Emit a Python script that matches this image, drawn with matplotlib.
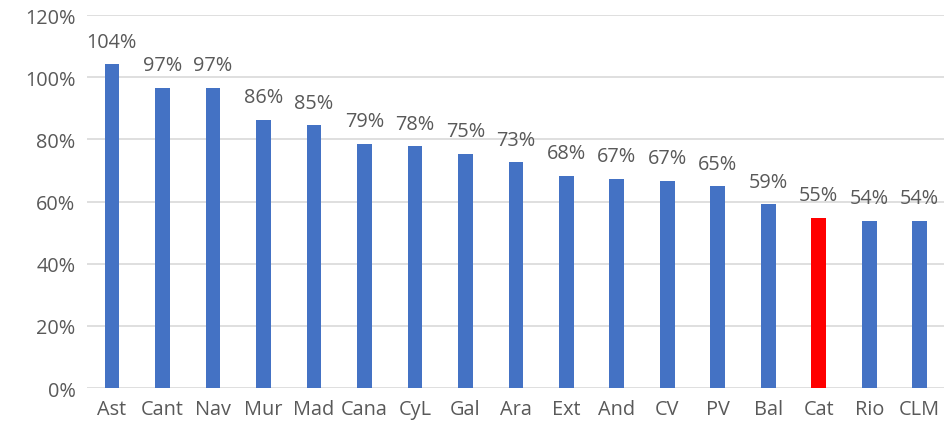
import matplotlib
matplotlib.use("Agg")
import matplotlib.pyplot as plt
import numpy as np

categories = ["Ast", "Cant", "Nav", "Mur", "Mad", "Cana", "CyL", "Gal", "Ara",
              "Ext", "And", "CV", "PV", "Bal", "Cat", "Rio", "CLM"]
values = [104.2, 96.6, 96.6, 86.3, 84.6, 78.6, 77.8, 75.4, 72.7,
          68.3, 67.4, 66.7, 65.0, 59.1, 54.8, 53.9, 53.9]
labels = ["104%", "97%", "97%", "86%", "85%", "79%", "78%", "75%", "73%",
          "68%", "67%", "67%", "65%", "59%", "55%", "54%", "54%"]
highlight = "Cat"
yticks = [0, 20, 40, 60, 80, 100, 120]

plt.rcParams['font.family'] = ['Open Sans', 'DejaVu Sans']
txt = "#595959"

fig = plt.figure(figsize=(9.45, 4.35), dpi=100)
ax = fig.add_axes([0.0917, 0.1057, 0.9083, 0.8573])

x = np.arange(len(categories))
colors = ["#FF0000" if c == highlight else "#4472C4" for c in categories]
ax.bar(x, values, width=0.29, color=colors, zorder=3)
for xi, v, l in zip(x, values, labels):
    ax.text(xi, v + 5.6, l, ha="center", va="baseline", fontsize=14.3, color=txt)

ax.set_xlim(-0.5, len(categories) - 0.5)
ax.set_ylim(0, 120)
ax.set_yticks(yticks)
ax.set_yticklabels([f"{t}%" for t in yticks])
ax.set_xticks(x)
ax.set_xticklabels(categories)
ax.tick_params(axis="both", length=0, labelsize=14.3, colors=txt)
ax.tick_params(axis="y", pad=8)
ax.tick_params(axis="x", pad=8)
ax.yaxis.grid(True, color="#d9d9d9", linewidth=1.2, zorder=0)
for s in ax.spines.values():
    s.set_visible(False)

fig.savefig("out.png", dpi=100)
